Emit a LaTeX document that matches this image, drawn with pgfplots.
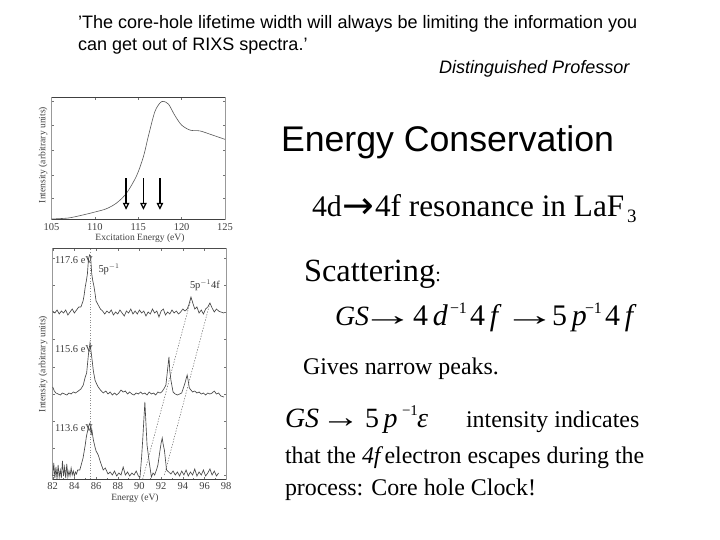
\documentclass[border=0pt]{standalone}
\usepackage{graphicx}
\usepackage{pgfplots}
\pgfplotsset{compat=1.18}
\usepackage{fontspec}
\setmainfont{Liberation Serif}
\newfontfamily\arial{Liberation Sans}
\newfontfamily\djv{DejaVu Sans}
\newfontfamily\tnr{Liberation Serif}
\usetikzlibrary{arrows.meta}
\newcommand\fs[1]{\fontsize{#1}{#1}\selectfont}
\newcommand\T[3]{\node[anchor=base west,inner sep=0pt,outer sep=0pt] at (#1bp,-#2bp) {#3};}
\newcommand\arr[1]{\scalebox{#1}[1.1]{\tnr\fs{28}→}}
\pgfplotstableread{
x y
82.0 168
82.2 166
82.4 169
82.6 165
82.8 168
83.0 166
83.2 169
83.4 164
83.6 167
83.8 170
84.0 166
84.2 169
84.4 172
84.6 172
84.8 178
84.9 184
85.0 192
85.1 198
85.2 205
85.3 220
85.4 224
85.5 222
85.6 205
85.7 198
85.8 193
85.9 186
86.0 178
86.2 174
86.4 170
86.6 168
86.8 165
87.0 168
87.2 166
87.4 169
87.6 164
87.8 167
88.0 165
88.2 169
88.4 166
88.6 163
88.8 168
89.0 166
89.2 170
89.4 165
89.6 168
89.8 165
90.0 169
90.2 166
90.4 168
90.6 163
90.8 167
91.0 165
91.2 170
91.4 166
91.6 168
91.8 162
92.0 168
92.2 170
92.4 164
92.6 167
92.8 165
93.0 169
93.2 166
93.4 168
93.6 165
93.8 167
94.0 170
94.2 168
94.4 170
94.55 174
94.75 182
94.95 175
95.1 170
95.3 172
95.5 166
95.7 169
95.9 165
96.1 170
96.3 172
96.5 176
96.7 171
96.9 167
97.1 170
97.3 168
97.5 167
97.8 166
}\specA
\pgfplotstableread{
x y
82.0 92
82.15 88
82.3 86
82.5 85
82.7 84
82.9 86
83.1 85
83.3 84
83.5 86
83.7 85
83.9 87
84.1 86
84.36 88
84.6 90
84.82 94
85.0 102
85.13 106
85.3 125
85.44 136
85.6 122
85.75 108
85.9 99
86.05 95
86.2 92
86.4 89
86.66 86
86.9 88
87.1 85
87.3 87
87.5 84
87.7 86
87.9 84
88.1 86
88.3 89
88.5 87
88.7 88
88.9 85
89.1 87
89.3 85
89.5 84
89.7 86
89.9 85
90.1 87
90.3 85
90.5 86
90.7 84
90.9 87
91.1 85
91.3 86
91.5 84
91.7 87
91.9 86
92.05 87
92.25 90
92.44 94
92.6 110
92.72 122
92.8 108
92.9 99
93.1 87
93.3 85
93.5 84
93.7 85
93.9 86
94.05 91
94.2 96
94.4 104
94.5 98
94.6 91
94.9 87
95.1 88
95.3 86
95.5 87
95.7 85
95.9 86
96.1 84
96.3 86
96.5 85
96.7 86
96.9 88
97.1 85
97.3 86
97.5 83
97.8 82
}\specB
\pgfplotstableread{
x y
82.0 3
82.1 16
82.2 1
82.3 12
82.4 0
82.5 14
82.6 2
82.7 9
82.8 1
82.9 18
83.0 3
83.1 12
83.2 1
83.3 15
83.4 2
83.5 8
83.6 3
83.7 11
83.8 4
83.9 8
84.0 3
84.1 7
84.2 5
84.3 9
84.5 9
84.8 21
85.0 34
85.1 42
85.25 50
85.35 54
85.44 56
85.55 44
85.6 50
85.75 39
85.9 32
86.0 28
86.2 24
86.4 17
86.66 9
86.85 11
87.1 5
87.3 7
87.5 4
87.7 8
87.9 3
88.1 6
88.3 4
88.5 12
88.7 4
88.9 7
89.1 3
89.3 6
89.5 4
89.7 8
89.9 3
90.05 2
90.2 22
90.3 39
90.5 77
90.7 34
90.9 17
91.1 2
91.25 6
91.4 4
91.6 10
91.7 14
91.9 29
92.0 36
92.1 41
92.2 34
92.3 29
92.5 9
92.7 7
92.9 5
93.1 8
93.3 4
93.5 7
93.7 3
93.9 8
94.1 4
94.3 9
94.5 3
94.7 7
94.9 4
95.1 10
95.3 3
95.5 7
95.7 4
95.9 9
96.1 3
96.3 6
96.5 10
96.7 4
96.9 8
97.1 3
97.3 6
}\specC
\begin{document}
\begin{tikzpicture}
\path[use as bounding box,fill=white] (0,0) rectangle (720bp,-540bp);

% upper panel
\begin{axis}[at={(51.5bp,-219bp)},anchor=south west,scale only axis,width=173.5bp,height=122bp,
  xmin=105,xmax=125,ymin=0,ymax=5.04,
  axis line style={black!40,line width=0.5pt},
  xtick={105,110,115,120,125},minor x tick num=0,
  ytick={0.86,1.83,2.85,3.86,4.86},yticklabels={},
  tick align=inside,tick style={black!55,line width=0.4pt},major tick length=2.5bp,
  xticklabel style={font=\fs{10.5}\color{black!75},yshift=-1.5bp},
  /pgf/number format/assume math mode=true,
  /pgf/number format/set thousands separator={},
  clip=false]
\addplot[black!75,line width=0.6pt] coordinates {(105,5.04) (125,5.04)};
\addplot[black!75,line width=0.6pt] coordinates {(105,0) (125,0)};
\addplot[black!65,line width=0.6pt,smooth] table[x=x,y=y] {
x y
105 0
106.9 0.04
108.3 0.14
109.8 0.27
111.3 0.42
112.5 0.66
113.65 1.07
114.8 1.78
115.6 2.58
116.15 3.4
116.9 4.42
117.5 4.79
117.9 4.86
118.5 4.74
119.2 4.29
120 3.88
121 3.67
122.1 3.64
123.3 3.5
125 3.29
};
\addplot[black,line width=1.5pt,-{Triangle[open,width=6.5bp,length=7bp,line width=1.2pt]}] coordinates {(113.6,1.68) (113.6,0.38)};
\addplot[black,line width=1.5pt,-{Triangle[open,width=6.5bp,length=7bp,line width=1.2pt]}] coordinates {(115.6,1.68) (115.6,0.38)};
\addplot[black,line width=1.5pt,-{Triangle[open,width=6.5bp,length=7bp,line width=1.2pt]}] coordinates {(117.5,1.68) (117.5,0.38)};
\end{axis}

% lower panel
\begin{axis}[at={(52.7bp,-479bp)},anchor=south west,scale only axis,width=173.5bp,height=231bp,
  xmin=82,xmax=98,ymin=0,ymax=231,
  axis line style={black!40,line width=0.5pt},
  xtick={82,84,...,98},minor x tick num=1,
  ytick={4,31,58,85,112,140,167,194,221},yticklabels={},minor y tick num=1,
  tick align=inside,tick style={black!55,line width=0.4pt},major tick length=2.5bp,minor tick length=1.3bp,
  xticklabel style={font=\fs{10.5}\color{black!75},yshift=0bp},
  /pgf/number format/assume math mode=true,
  clip=false]
\addplot[black!75,line width=0.6pt] coordinates {(82,0) (98,0)};
\addplot[black!70,line width=0.5pt] coordinates {(82,231) (98,231)};
\addplot[black!45,line width=0.5pt,dash pattern=on 0.8bp off 1.8bp] coordinates {(85.5,0) (85.5,231)};
\addplot[black!60,line width=0.5pt,dash pattern=on 1.3bp off 1.5bp] coordinates {(90.3,0) (94.75,180)};
\addplot[black!60,line width=0.5pt,dash pattern=on 1.3bp off 1.5bp] coordinates {(92.3,4) (96.5,176)};
\addplot[black!72,line width=0.65pt] table[x=x,y=y] {\specA};
\addplot[black!72,line width=0.65pt] table[x=x,y=y] {\specB};
\addplot[black!72,line width=0.65pt] table[x=x,y=y] {\specC};
\end{axis}

% panel labels
\node[rotate=90,font=\fs{9.6},text=black!75,inner sep=0pt] at (43bp,-155bp) {Intensity (arbitrary units)};
\node[font=\fs{9.6},text=black!75,inner sep=0pt] at (140bp,-238bp) {Excitation Energy (eV)};
\node[rotate=90,font=\fs{9.6},text=black!75,inner sep=0pt] at (43bp,-364bp) {Intensity (arbitrary units)};
\node[font=\fs{9.6},text=black!75,inner sep=0pt] at (135bp,-498bp) {Energy (eV)};
\T{55}{263}{\fs{10.5}\color{black!75}117.6 eV}
\T{98.5}{272}{\fs{10.5}\color{black!80}5p$^{-1}$}
\T{190}{288}{\fs{10.5}\color{black!80}5p$^{-1}$4f}
\T{55}{352}{\fs{10.5}\color{black!75}115.6 eV}
\T{55}{431}{\fs{10.5}\color{black!75}113.6 eV}

% slide text
\T{78}{28}{\arial\fs{18.1}’The core-hole lifetime width will always be limiting the information you}
\T{78}{50}{\arial\fs{18.1}can get out of RIXS spectra.’}
\T{439}{73}{\arial\itshape\fs{18.1}Distinguished Professor}
\T{281}{151}{\arial\fs{35.8}Energy Conservation}
\T{312}{216}{\tnr\fs{30}4d}
\T{342}{218}{\djv\fs{38}→}
\T{375}{216}{\tnr\fs{31.4}4f resonance in LaF}
\T{627}{222}{\tnr\fs{19}3}
\T{304}{281}{\tnr\fs{32.5}Scattering\fs{20}:}
% first equation
\T{335}{325}{\tnr\fs{28}\textit{GS}}
\T{361}{325}{\arr{1.9}}
\T{413}{325}{\tnr\fs{30}4\,\textit{d}}
\T{450}{313.5}{\tnr\fs{16}−1}
\T{470}{325}{\tnr\fs{30}4\,\textit{f}}
\T{503}{325}{\arr{1.9}}
\T{552}{325}{\tnr\fs{30}5\,\textit{p}}
\T{585}{313.5}{\tnr\fs{16}−1}
\T{605}{325}{\tnr\fs{30}4\,\textit{f}}
\T{303}{374}{\tnr\fs{24}Gives narrow peaks.}
% second equation
\T{285}{427}{\tnr\fs{28}\textit{GS}}
\T{321}{427}{\arr{1.4}}
\T{365}{427}{\tnr\fs{28}5\,\textit{p}}
\T{402}{415}{\tnr\fs{15}−1}
\T{417}{427}{\tnr\fs{28}\textit{ε}}
\T{466}{427}{\tnr\fs{24}intensity indicates}
\T{285}{463}{\tnr\fs{24}that the \textit{4f\,}electron escapes during the}
\T{285}{495}{\tnr\fs{24}process: Core hole Clock!}
\end{tikzpicture}
\end{document}
